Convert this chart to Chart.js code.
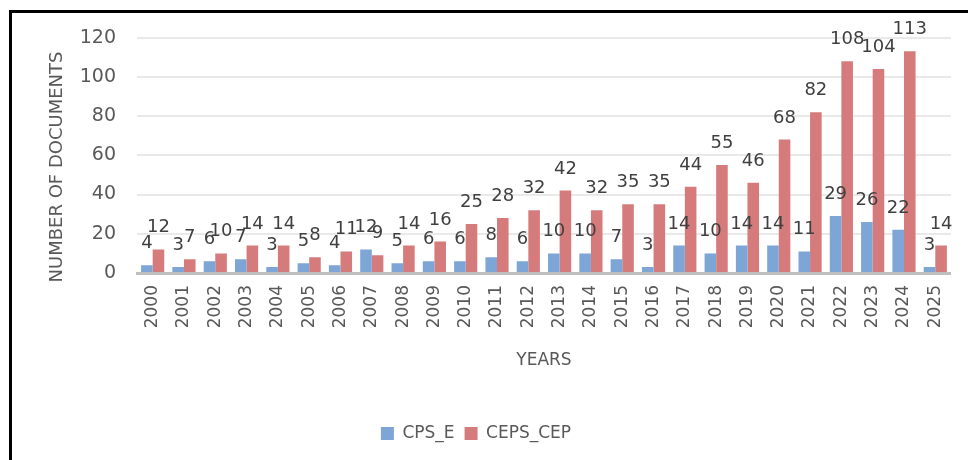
<!DOCTYPE html>
<html>
<head>
<meta charset="utf-8">
<script src="https://cdn.jsdelivr.net/npm/chart.js@4.4.1/dist/chart.umd.min.js"></script>
<style>
  body { margin: 0; background: #fff; }
  #wrap { position: relative; width: 968px; height: 460px; overflow: hidden; }
  #frame { position: absolute; left: 9px; top: 10px; width: 990px; height: 480px;
           border-left: 3px solid #000; border-top: 3px solid #000; }
  #myChart { position: absolute; left: 0; top: 0; }
</style>
</head>
<body>
<div id="wrap">
  <div id="frame"></div>
  <canvas id="myChart" width="968" height="460"></canvas>
</div>
<script>
// donnees
const years = ["2000", "2001", "2002", "2003", "2004", "2005", "2006", "2007", "2008", "2009",
  "2010", "2011", "2012", "2013", "2014", "2015", "2016", "2017", "2018", "2019",
  "2020", "2021", "2022", "2023", "2024", "2025"];
const cpsE = [4, 3, 6, 7, 3, 5, 4, 12, 5, 6, 6, 8, 6, 10, 10, 7, 3, 14, 10, 14, 14, 11, 29, 26, 22, 3];
const cepsCep = [12, 7, 10, 14, 14, 8, 11, 9, 14, 16, 25, 28, 32, 42, 32, 35, 35, 44, 55, 46, 68, 82, 108, 104, 113, 14];
const yTitle = "NUMBER OF DOCUMENTS";
const xTitle = "YEARS";

const fontNum = "'DejaVu Sans', 'Liberation Sans', sans-serif";

// etiquettes au dessus des barres + titre axe y
const labelsPlugin = {
  id: "labelsPlugin",
  afterDatasetsDraw(chart) {
    const ctx = chart.ctx;
    ctx.save();
    ctx.font = "18px " + fontNum;
    ctx.fillStyle = "#404040";
    ctx.textAlign = "center";
    ctx.textBaseline = "alphabetic";
    chart.data.datasets.forEach((ds, i) => {
      const meta = chart.getDatasetMeta(i);
      meta.data.forEach((bar, j) => {
        ctx.fillText(ds.data[j], bar.x, bar.y - 17);
      });
    });
    ctx.restore();
  },
  afterDraw(chart) {
    const ctx = chart.ctx;
    ctx.save();
    ctx.translate(57, 167);
    ctx.rotate(-Math.PI / 2);
    ctx.font = "18px " + fontNum;
    ctx.fillStyle = "#595959";
    ctx.textAlign = "center";
    ctx.textBaseline = "middle";
    ctx.fillText(yTitle, 0, 0);
    ctx.restore();
  },
};

const ctx = document.getElementById("myChart").getContext("2d");
const myChart = new Chart(ctx, {
  type: "bar",
  data: {
    labels: years,
    datasets: [
      {
        label: "CPS_E",
        data: cpsE,
        backgroundColor: "rgb(125, 165, 214)",
        categoryPercentage: 0.74,
        barPercentage: 1,
      },
      {
        label: "CEPS_CEP",
        data: cepsCep,
        backgroundColor: "rgb(214, 123, 123)",
        categoryPercentage: 0.74,
        barPercentage: 1,
      },
    ],
  },
  options: {
    responsive: false,
    animation: false,
    layout: { padding: { left: 0, right: 16, top: 37.6, bottom: 8 } },
    plugins: {
      legend: {
        position: "bottom",
        labels: {
          boxWidth: 13,
          boxHeight: 13,
          padding: 10,
          color: "#595959",
          font: { family: fontNum, size: 17 },
        },
      },
      tooltip: { enabled: false },
    },
    scales: {
      x: {
        grid: { display: false, drawTicks: false },
        border: { display: true, color: "#bfbfbf", width: 3 },
        ticks: {
          color: "#595959",
          font: { family: fontNum, size: 17 },
          minRotation: 90,
          maxRotation: 90,
          padding: 12,
          autoSkip: false,
        },
        title: {
          display: true,
          text: xTitle,
          color: "#595959",
          font: { family: fontNum, size: 17 },
          padding: { top: 0, bottom: 44 },
        },
        afterFit(scale) { scale.height = 142; },
      },
      y: {
        min: 0,
        max: 120,
        grid: { color: "#e9e9e9", lineWidth: 2, drawTicks: false },
        border: { display: false },
        ticks: {
          stepSize: 20,
          color: "#595959",
          font: { family: fontNum, size: 19 },
          padding: 21,
        },
        afterFit(scale) { scale.width = 137; },
      },
    },
  },
  plugins: [labelsPlugin],
});
</script>
</body>
</html>
